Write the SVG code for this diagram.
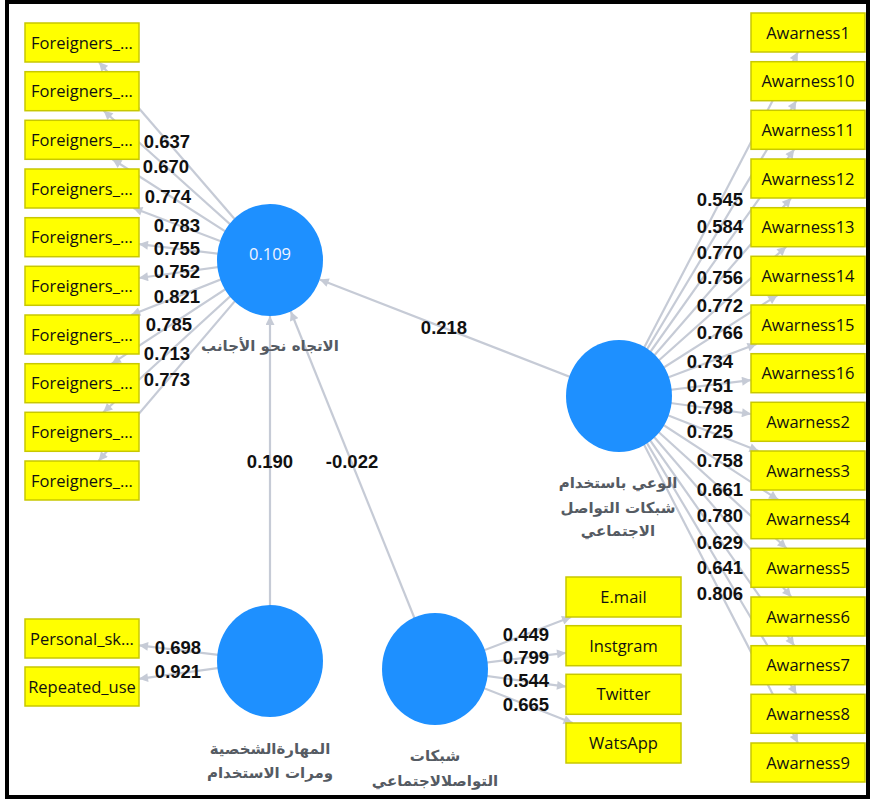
<svg xmlns="http://www.w3.org/2000/svg" width="871" height="800" viewBox="0 0 871 800">
<defs>
<marker id="ah" viewBox="0 0 10 10" refX="10" refY="5" markerUnits="userSpaceOnUse" markerWidth="11" markerHeight="9" orient="auto">
<path d="M0,0 L10,5 L0,10 z" fill="#c6cbd6"/>
</marker>
<style>
.ln{stroke:#c6cbd6;stroke-width:2.2;fill:none;marker-end:url(#ah)}
.box{fill:#ffff00;stroke:#c8c800;stroke-width:1.5}
.bt{font-family:"Open Sans","Noto Sans",sans-serif;font-size:16.5px;fill:#111;text-anchor:middle}
.lv{fill:#1e90ff}
.val{font-family:"Liberation Sans",Arial,sans-serif;font-weight:bold;font-size:18.5px;fill:#111;text-anchor:middle}
.ar{font-family:"DejaVu Sans",sans-serif;font-weight:bold;font-size:15px;fill:#555b63;text-anchor:middle}
.r2{font-family:"Open Sans","Noto Sans",sans-serif;font-size:16.5px;fill:#f0f4ff;text-anchor:middle}
</style>
</defs>
<rect x="0" y="0" width="871" height="800" fill="#fff"/>
<rect x="7" y="2" width="861" height="795" fill="#fff" stroke="#000" stroke-width="4"/>

<g id="connectors">
<line class="ln" x1="270" y1="260" x2="98.9" y2="62"/>
<line class="ln" x1="270" y1="260" x2="103.7" y2="110.7"/>
<line class="ln" x1="270" y1="260" x2="112.5" y2="159.3"/>
<line class="ln" x1="270" y1="260" x2="133.3" y2="208"/>
<line class="ln" x1="270" y1="260" x2="139" y2="244.1"/>
<line class="ln" x1="270" y1="260" x2="139" y2="278"/>
<line class="ln" x1="270" y1="260" x2="131.2" y2="315"/>
<line class="ln" x1="270" y1="260" x2="111.8" y2="363.7"/>
<line class="ln" x1="270" y1="260" x2="103.3" y2="412.3"/>
<line class="ln" x1="270" y1="260" x2="98.6" y2="461"/>

<line class="ln" x1="619" y1="396" x2="797.9" y2="52"/>
<line class="ln" x1="619" y1="396" x2="796.3" y2="100.7"/>
<line class="ln" x1="619" y1="396" x2="794.2" y2="149.3"/>
<line class="ln" x1="619" y1="396" x2="791.1" y2="198"/>
<line class="ln" x1="619" y1="396" x2="786.2" y2="246.7"/>
<line class="ln" x1="619" y1="396" x2="777.3" y2="295.3"/>
<line class="ln" x1="619" y1="396" x2="756.5" y2="344"/>
<line class="ln" x1="619" y1="396" x2="751" y2="380.1"/>
<line class="ln" x1="619" y1="396" x2="751" y2="414"/>
<line class="ln" x1="619" y1="396" x2="758.5" y2="451"/>
<line class="ln" x1="619" y1="396" x2="778.1" y2="499.7"/>
<line class="ln" x1="619" y1="396" x2="786.6" y2="548.3"/>
<line class="ln" x1="619" y1="396" x2="791.3" y2="597"/>
<line class="ln" x1="619" y1="396" x2="794.3" y2="645.7"/>
<line class="ln" x1="619" y1="396" x2="796.4" y2="694.3"/>
<line class="ln" x1="619" y1="396" x2="797.9" y2="743"/>

<line class="ln" x1="435" y1="669" x2="571.1" y2="617"/>
<line class="ln" x1="435" y1="669" x2="566" y2="652.8"/>
<line class="ln" x1="435" y1="669" x2="566" y2="686.6"/>
<line class="ln" x1="435" y1="669" x2="572.6" y2="723"/>

<line class="ln" x1="270" y1="661" x2="139" y2="645.3"/>
<line class="ln" x1="270" y1="661" x2="139" y2="678.8"/>

<line class="ln" x1="619" y1="396" x2="319.7" y2="279.4"/>
<line class="ln" x1="270" y1="661" x2="270" y2="316"/>
<line class="ln" x1="435" y1="669" x2="290.8" y2="311.5"/>

<g class="val">
<text x="167" y="148">0.637</text>
<text x="166" y="173">0.670</text>
<text x="168" y="203">0.774</text>
<text x="177" y="232">0.783</text>
<text x="177" y="255">0.755</text>
<text x="177" y="278">0.752</text>
<text x="177" y="303">0.821</text>
<text x="169" y="331">0.785</text>
<text x="167" y="360">0.713</text>
<text x="167" y="386">0.773</text>

<text x="720" y="206">0.545</text>
<text x="720" y="233">0.584</text>
<text x="720" y="259">0.770</text>
<text x="720" y="284">0.756</text>
<text x="720" y="312">0.772</text>
<text x="720" y="339">0.766</text>
<text x="710" y="368">0.734</text>
<text x="710" y="392">0.751</text>
<text x="710" y="414">0.798</text>
<text x="710" y="438">0.725</text>
<text x="720" y="467">0.758</text>
<text x="720" y="496">0.661</text>
<text x="720" y="522">0.780</text>
<text x="720" y="549">0.629</text>
<text x="720" y="574">0.641</text>
<text x="720" y="600">0.806</text>

<text x="526" y="641">0.449</text>
<text x="526" y="664">0.799</text>
<text x="526" y="687">0.544</text>
<text x="526" y="711">0.665</text>

<text x="178" y="654">0.698</text>
<text x="178" y="678">0.921</text>

<text x="444" y="334">0.218</text>
<text x="270" y="468">0.190</text>
<text x="352" y="468">-0.022</text>
</g>
</g>

<g id="foreigners_att">
<ellipse class="lv" cx="270" cy="260" rx="53" ry="56"/>
<text class="r2" x="270" y="260">0.109</text>
<text class="ar" x="270" y="351">الاتجاه نحو الأجانب</text>
</g>
<g id="awareness">
<ellipse class="lv" cx="619" cy="396" rx="53" ry="56"/>
<text class="ar" x="618" y="488">الوعي باستخدام</text>
<text class="ar" x="618" y="513">شبكات التواصل</text>
<text class="ar" x="618" y="536">الاجتماعي</text>
</g>
<g id="skills">
<ellipse class="lv" cx="270" cy="661" rx="53" ry="56"/>
<text class="ar" x="270" y="754">المهارةالشخصية</text>
<text class="ar" x="270" y="778">ومرات الاستخدام</text>
</g>
<g id="social_networks">
<ellipse class="lv" cx="435" cy="669" rx="53" ry="56"/>
<text class="ar" x="435" y="761">شبكات</text>
<text class="ar" x="435" y="786">التواصلالاجتماعي</text>
</g>

<g id="f1"><rect class="box" x="25" y="23" width="114" height="39"/><text class="bt" x="82" y="48.5">Foreigners_...</text></g>
<g id="f2"><rect class="box" x="25" y="71.7" width="114" height="39"/><text class="bt" x="82" y="97.2">Foreigners_...</text></g>
<g id="f3"><rect class="box" x="25" y="120.3" width="114" height="39"/><text class="bt" x="82" y="145.8">Foreigners_...</text></g>
<g id="f4"><rect class="box" x="25" y="169" width="114" height="39"/><text class="bt" x="82" y="194.5">Foreigners_...</text></g>
<g id="f5"><rect class="box" x="25" y="217.7" width="114" height="39"/><text class="bt" x="82" y="243.2">Foreigners_...</text></g>
<g id="f6"><rect class="box" x="25" y="266.3" width="114" height="39"/><text class="bt" x="82" y="291.8">Foreigners_...</text></g>
<g id="f7"><rect class="box" x="25" y="315" width="114" height="39"/><text class="bt" x="82" y="340.5">Foreigners_...</text></g>
<g id="f8"><rect class="box" x="25" y="363.7" width="114" height="39"/><text class="bt" x="82" y="389.2">Foreigners_...</text></g>
<g id="f9"><rect class="box" x="25" y="412.3" width="114" height="39"/><text class="bt" x="82" y="437.8">Foreigners_...</text></g>
<g id="f10"><rect class="box" x="25" y="461" width="114" height="39"/><text class="bt" x="82" y="486.5">Foreigners_...</text></g>

<g id="personal"><rect class="box" x="25" y="619" width="114" height="39"/><text class="bt" x="82" y="644.5">Personal_sk...</text></g>
<g id="repeated"><rect class="box" x="25" y="667" width="114" height="39"/><text class="bt" x="82" y="692.5">Repeated_use</text></g>

<g id="email"><rect class="box" x="566" y="577" width="115" height="40"/><text class="bt" x="623.5" y="603">E.mail</text></g>
<g id="instgram"><rect class="box" x="566" y="625.7" width="115" height="40"/><text class="bt" x="623.5" y="651.7">Instgram</text></g>
<g id="twitter"><rect class="box" x="566" y="674.3" width="115" height="40"/><text class="bt" x="623.5" y="700.3">Twitter</text></g>
<g id="watsapp"><rect class="box" x="566" y="723" width="115" height="40"/><text class="bt" x="623.5" y="749">WatsApp</text></g>

<g id="a1"><rect class="box" x="751" y="13" width="114" height="39"/><text class="bt" x="808" y="38.5">Awarness1</text></g>
<g id="a10"><rect class="box" x="751" y="61.7" width="114" height="39"/><text class="bt" x="808" y="87.2">Awarness10</text></g>
<g id="a11"><rect class="box" x="751" y="110.3" width="114" height="39"/><text class="bt" x="808" y="135.8">Awarness11</text></g>
<g id="a12"><rect class="box" x="751" y="159" width="114" height="39"/><text class="bt" x="808" y="184.5">Awarness12</text></g>
<g id="a13"><rect class="box" x="751" y="207.7" width="114" height="39"/><text class="bt" x="808" y="233.2">Awarness13</text></g>
<g id="a14"><rect class="box" x="751" y="256.3" width="114" height="39"/><text class="bt" x="808" y="281.8">Awarness14</text></g>
<g id="a15"><rect class="box" x="751" y="305" width="114" height="39"/><text class="bt" x="808" y="330.5">Awarness15</text></g>
<g id="a16"><rect class="box" x="751" y="353.7" width="114" height="39"/><text class="bt" x="808" y="379.2">Awarness16</text></g>
<g id="a2"><rect class="box" x="751" y="402.3" width="114" height="39"/><text class="bt" x="808" y="427.8">Awarness2</text></g>
<g id="a3"><rect class="box" x="751" y="451" width="114" height="39"/><text class="bt" x="808" y="476.5">Awarness3</text></g>
<g id="a4"><rect class="box" x="751" y="499.7" width="114" height="39"/><text class="bt" x="808" y="525.2">Awarness4</text></g>
<g id="a5"><rect class="box" x="751" y="548.3" width="114" height="39"/><text class="bt" x="808" y="573.8">Awarness5</text></g>
<g id="a6"><rect class="box" x="751" y="597" width="114" height="39"/><text class="bt" x="808" y="622.5">Awarness6</text></g>
<g id="a7"><rect class="box" x="751" y="645.7" width="114" height="39"/><text class="bt" x="808" y="671.2">Awarness7</text></g>
<g id="a8"><rect class="box" x="751" y="694.3" width="114" height="39"/><text class="bt" x="808" y="719.8">Awarness8</text></g>
<g id="a9"><rect class="box" x="751" y="743" width="114" height="39"/><text class="bt" x="808" y="768.5">Awarness9</text></g>
</svg>
